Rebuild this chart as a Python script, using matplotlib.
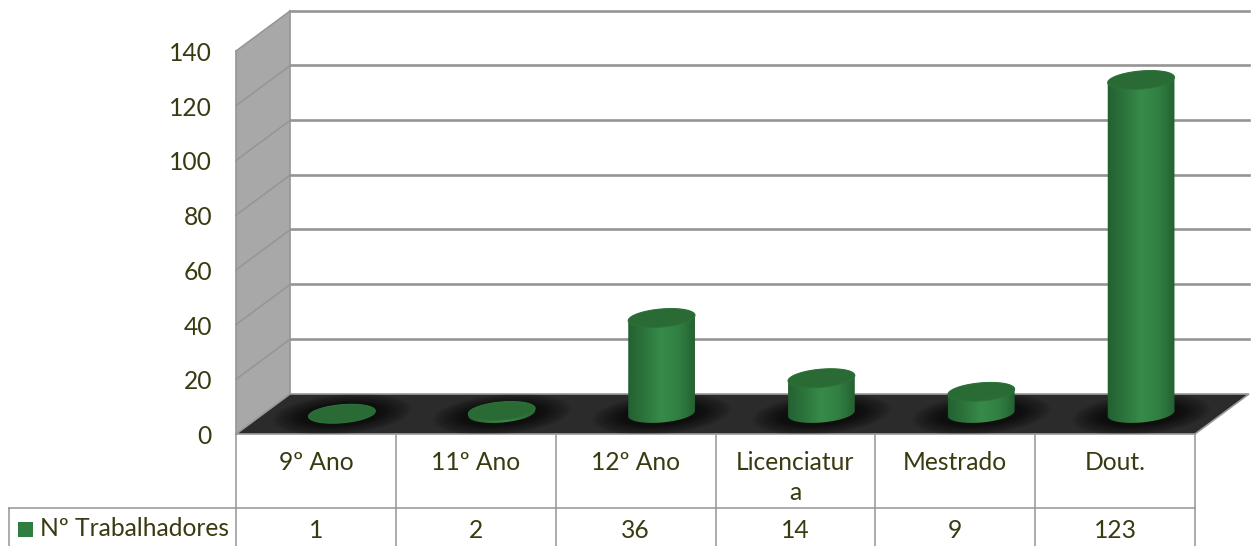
#3D cylinder chart with data table underneath, drawn by hand in pixel space
import numpy as np
import matplotlib
matplotlib.use('Agg')
import matplotlib.pyplot as plt
from matplotlib.colors import LinearSegmentedColormap
from matplotlib.patches import Polygon, PathPatch
from matplotlib.path import Path

#=====================Data===============
categories = ['9º Ano', '11º Ano', '12º Ano', 'Licenciatur\na', 'Mestrado', 'Dout.']
values = [1, 2, 36, 14, 9, 123]
series_name = 'Nº Trabalhadores'
y_ticks = [0, 20, 40, 60, 80, 100, 120, 140]

#=====================Style / layout===============
plt.rcParams['font.family'] = ['Lato', 'DejaVu Sans']
txt_col = '#3a3a10'
grid_col = '#959595'
wall_col = '#a8a8a8'
floor_col = '#2b2b2b'
top_col = '#2a6a34'
swatch_col = '#2f7d40'
font_size = 17.7

left, right = 236, 1195      #front edge of the floor
dx, dy = 54, -40             #depth of the box
y_zero = 434
px_per_unit = 383 / 140
cell = (right - left) / len(categories)
rx, ry, tilt = 33.5, 9.0, np.deg2rad(-5)


def yval(v):
    return y_zero - v * px_per_unit


def ellipse(cx, cy, a=rx, b=ry, start=0, stop=2 * np.pi):
    t = np.linspace(start, stop, 80)
    x = a * np.cos(t)
    y = b * np.sin(t)
    return np.column_stack([cx + x * np.cos(tilt) - y * np.sin(tilt),
                            cy + x * np.sin(tilt) + y * np.cos(tilt)])


fig = plt.figure(figsize=(12.53, 5.46), dpi=100)
ax = fig.add_axes([0, 0, 1, 1])

#=====================Walls and floor===============
top = yval(y_ticks[-1])
ax.add_patch(Polygon([(left, top), (left + dx, top + dy), (left + dx, y_zero + dy), (left, y_zero)],
                     fc=wall_col, ec='none', zorder=1))
for t in y_ticks:
    y = yval(t)
    ax.plot([left, left + dx], [y, y + dy], color=grid_col, lw=1.1, zorder=2)
    if t > 0:
        ax.plot([left + dx, right + dx], [y + dy - 0.5, y + dy - 0.5], color=grid_col, lw=1.9, zorder=2)
ax.plot([left, left], [top, y_zero], color=grid_col, lw=1.2, zorder=2)
ax.plot([left + dx, left + dx], [top + dy, y_zero + dy], color=grid_col, lw=1.2, zorder=2)

floor = Polygon([(left, y_zero), (right, y_zero), (right + dx, y_zero + dy), (left + dx, y_zero + dy)],
                fc=floor_col, ec='#9a9a9a', lw=1.2, zorder=3)
ax.add_patch(floor)

#=====================Cylinders===============
cyl_cmap = LinearSegmentedColormap.from_list('cyl', ['#235f30', '#2d743c', '#378b4a', '#317f43', '#235f30'])
grad = np.linspace(0, 1, 256).reshape(1, -1)

for i, v in enumerate(values):
    cx = left + (i + 0.5) * cell + 26
    cy_base = y_zero - 20.5
    cy_top = cy_base + 3 - v * px_per_unit

    #soft shadow on the floor
    for k in np.linspace(1, 0, 14):
        sh = Polygon(ellipse(cx, cy_base + 1, rx + 6 + 30 * k, ry + 1 + 10 * k), fc='black', ec='none',
                     alpha=0.06, zorder=4)
        ax.add_patch(sh)
        sh.set_clip_path(floor)

    #body, filled with a horizontal gradient clipped to the outline
    lower = ellipse(cx, cy_base, start=0, stop=np.pi)
    upper = ellipse(cx, cy_top, start=np.pi, stop=2 * np.pi)
    body = np.vstack([lower, upper, lower[:1]])
    patch = PathPatch(Path(body), fc='none', ec='none', transform=ax.transData)
    ax.add_patch(patch)
    im = ax.imshow(grad, cmap=cyl_cmap, extent=[cx - rx - 1, cx + rx + 1, cy_base + ry + 3, cy_top - ry - 3],
                   aspect='auto', interpolation='bilinear', zorder=5)
    im.set_clip_path(patch)

    #top face
    ax.add_patch(Polygon(ellipse(cx, cy_top), fc=top_col, ec='#2c7239', lw=0.8, zorder=6))

#=====================Y labels===============
for t in y_ticks:
    ax.text(212, yval(t) + 2.5, str(t), ha='right', va='center', color=txt_col, fontsize=font_size, zorder=8)

#=====================Data table===============
row_y = 508
edges = [left + i * cell for i in range(len(categories) + 1)]
ax.plot([9, right], [row_y, row_y], color=grid_col, lw=1.1, zorder=7)
ax.plot([9, 9], [row_y, 546], color=grid_col, lw=1.1, zorder=7)
for e in edges:
    ax.plot([e, e], [y_zero, 546], color=grid_col, lw=1.1, zorder=7)

for i, (c, v) in enumerate(zip(categories, values)):
    mid = edges[i] + cell / 2
    ax.text(mid, 451, c, ha='center', va='top', color=txt_col, fontsize=font_size, linespacing=1.35, zorder=8)
    ax.text(mid, 530, str(v), ha='center', va='center', color=txt_col, fontsize=font_size, zorder=8)

ax.add_patch(Polygon([(18, 522), (33, 522), (33, 537), (18, 537)], fc=swatch_col, ec='none', zorder=8))
ax.text(40, 528, series_name, ha='left', va='center', color=txt_col, fontsize=font_size, zorder=8)

ax.set_xlim(0, 1253)
ax.set_ylim(546, 0)
ax.axis('off')

fig.savefig('out.png', dpi=100)
